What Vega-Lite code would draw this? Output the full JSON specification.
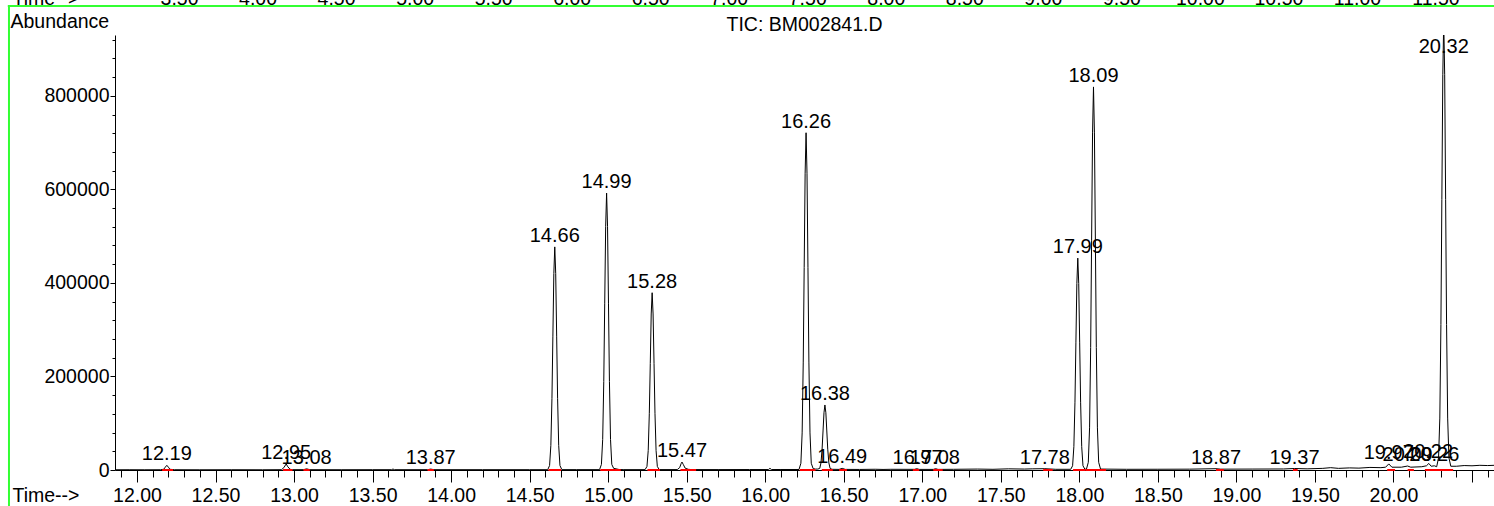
{
  "$schema": "https://vega.github.io/schema/vega-lite/v6.json",
  "autosize": {"type": "none"},
  "width": 1379,
  "height": 435,
  "padding": {"left": 115, "top": 35, "right": 0, "bottom": 36},
  "background": "white",
  "title": {
    "text": "TIC: BM002841.D",
    "anchor": "middle",
    "fontSize": 19.5,
    "fontWeight": "normal",
    "font": "Liberation Sans",
    "color": "black",
    "baseline": "alphabetic",
    "offset": 7,
    "dy": 69
  },
  "datasets": {
    "trace": [
      {"t": 11.86, "a": 500}, {"t": 11.95, "a": 600}, {"t": 12.05, "a": 500}, {"t": 12.15, "a": 600},
      {"t": 12.17, "a": 1500}, {"t": 12.18, "a": 6000}, {"t": 12.19, "a": 10000}, {"t": 12.2, "a": 6000},
      {"t": 12.21, "a": 1500}, {"t": 12.24, "a": 600}, {"t": 12.4, "a": 500}, {"t": 12.6, "a": 600},
      {"t": 12.8, "a": 500}, {"t": 12.92, "a": 700}, {"t": 12.935, "a": 5000}, {"t": 12.95, "a": 13000},
      {"t": 12.96, "a": 7000}, {"t": 12.975, "a": 1500}, {"t": 12.99, "a": 700}, {"t": 13.06, "a": 700},
      {"t": 13.08, "a": 2500}, {"t": 13.1, "a": 700}, {"t": 13.3, "a": 600}, {"t": 13.5, "a": 700},
      {"t": 13.62, "a": 700}, {"t": 13.63, "a": 2000}, {"t": 13.64, "a": 700}, {"t": 13.85, "a": 700},
      {"t": 13.87, "a": 2000}, {"t": 13.89, "a": 700}, {"t": 14.2, "a": 700}, {"t": 14.5, "a": 700},
      {"t": 14.615, "a": 700}, {"t": 14.627, "a": 9500}, {"t": 14.635, "a": 52500}, {"t": 14.642, "a": 152600},
      {"t": 14.648, "a": 286200}, {"t": 14.654, "a": 419800}, {"t": 14.66, "a": 477000}, {"t": 14.666, "a": 419800},
      {"t": 14.672, "a": 286200}, {"t": 14.678, "a": 152600}, {"t": 14.685, "a": 52500}, {"t": 14.693, "a": 9500},
      {"t": 14.705, "a": 800}, {"t": 14.8, "a": 800}, {"t": 14.945, "a": 800}, {"t": 14.957, "a": 11840},
      {"t": 14.965, "a": 65120}, {"t": 14.972, "a": 189440}, {"t": 14.978, "a": 355200}, {"t": 14.984, "a": 520960},
      {"t": 14.99, "a": 592000}, {"t": 14.996, "a": 520960}, {"t": 15.002, "a": 355200}, {"t": 15.008, "a": 189440},
      {"t": 15.015, "a": 65120}, {"t": 15.023, "a": 11840}, {"t": 15.035, "a": 3500}, {"t": 15.05, "a": 2500},
      {"t": 15.07, "a": 1000}, {"t": 15.1, "a": 800}, {"t": 15.235, "a": 800}, {"t": 15.247, "a": 7580},
      {"t": 15.255, "a": 41690}, {"t": 15.262, "a": 121280}, {"t": 15.268, "a": 227400}, {"t": 15.274, "a": 333520},
      {"t": 15.28, "a": 379000}, {"t": 15.286, "a": 333520}, {"t": 15.292, "a": 227400}, {"t": 15.298, "a": 121280},
      {"t": 15.305, "a": 41690}, {"t": 15.313, "a": 7580}, {"t": 15.325, "a": 900}, {"t": 15.44, "a": 900},
      {"t": 15.455, "a": 5000}, {"t": 15.465, "a": 14000}, {"t": 15.47, "a": 17000}, {"t": 15.478, "a": 12000},
      {"t": 15.49, "a": 4000}, {"t": 15.51, "a": 1500}, {"t": 15.53, "a": 900}, {"t": 15.7, "a": 900},
      {"t": 15.9, "a": 1000}, {"t": 16.02, "a": 1000}, {"t": 16.03, "a": 3500}, {"t": 16.04, "a": 1000},
      {"t": 16.1, "a": 1100}, {"t": 16.215, "a": 1100}, {"t": 16.227, "a": 14420}, {"t": 16.235, "a": 79310},
      {"t": 16.242, "a": 230720}, {"t": 16.248, "a": 432600}, {"t": 16.254, "a": 634480}, {"t": 16.26, "a": 721000},
      {"t": 16.266, "a": 634480}, {"t": 16.272, "a": 432600}, {"t": 16.278, "a": 230720}, {"t": 16.285, "a": 79310},
      {"t": 16.293, "a": 14420}, {"t": 16.305, "a": 3000}, {"t": 16.32, "a": 2000}, {"t": 16.335, "a": 2000},
      {"t": 16.347, "a": 3500}, {"t": 16.355, "a": 15290}, {"t": 16.362, "a": 44480}, {"t": 16.368, "a": 83400},
      {"t": 16.374, "a": 122320}, {"t": 16.38, "a": 139000}, {"t": 16.386, "a": 122320}, {"t": 16.392, "a": 83400},
      {"t": 16.398, "a": 44480}, {"t": 16.405, "a": 15290}, {"t": 16.413, "a": 3500}, {"t": 16.425, "a": 1500},
      {"t": 16.47, "a": 1300}, {"t": 16.49, "a": 3500}, {"t": 16.51, "a": 1300}, {"t": 16.6, "a": 1200},
      {"t": 16.7, "a": 1600}, {"t": 16.75, "a": 1200}, {"t": 16.8, "a": 1500}, {"t": 16.95, "a": 1400},
      {"t": 16.965, "a": 2800}, {"t": 16.98, "a": 1300}, {"t": 17.07, "a": 1300}, {"t": 17.085, "a": 2800},
      {"t": 17.1, "a": 1300}, {"t": 17.2, "a": 1500}, {"t": 17.35, "a": 2000}, {"t": 17.45, "a": 1500},
      {"t": 17.55, "a": 2500}, {"t": 17.65, "a": 2000}, {"t": 17.7, "a": 2500}, {"t": 17.78, "a": 2800},
      {"t": 17.85, "a": 1500}, {"t": 17.945, "a": 1500}, {"t": 17.957, "a": 9060}, {"t": 17.965, "a": 49830},
      {"t": 17.972, "a": 144960}, {"t": 17.978, "a": 271800}, {"t": 17.984, "a": 398640}, {"t": 17.99, "a": 453000},
      {"t": 17.996, "a": 398640}, {"t": 18.002, "a": 271800}, {"t": 18.008, "a": 144960}, {"t": 18.015, "a": 49830},
      {"t": 18.023, "a": 9060}, {"t": 18.035, "a": 1800}, {"t": 18.045, "a": 1800}, {"t": 18.057, "a": 16380},
      {"t": 18.065, "a": 90090}, {"t": 18.072, "a": 262080}, {"t": 18.078, "a": 491400}, {"t": 18.084, "a": 720720},
      {"t": 18.09, "a": 819000}, {"t": 18.096, "a": 720720}, {"t": 18.102, "a": 491400}, {"t": 18.108, "a": 262080},
      {"t": 18.115, "a": 90090}, {"t": 18.123, "a": 16380}, {"t": 18.135, "a": 2000}, {"t": 18.3, "a": 1500},
      {"t": 18.5, "a": 1600}, {"t": 18.7, "a": 1800}, {"t": 18.87, "a": 2800}, {"t": 18.9, "a": 1800},
      {"t": 19.1, "a": 2000}, {"t": 19.3, "a": 2200}, {"t": 19.37, "a": 3200}, {"t": 19.45, "a": 2500},
      {"t": 19.55, "a": 3500}, {"t": 19.6, "a": 5000}, {"t": 19.65, "a": 3500}, {"t": 19.72, "a": 4500},
      {"t": 19.78, "a": 4000}, {"t": 19.85, "a": 5500}, {"t": 19.92, "a": 5000}, {"t": 19.95, "a": 6000},
      {"t": 19.97, "a": 13000}, {"t": 19.99, "a": 6000}, {"t": 20.05, "a": 6000}, {"t": 20.09, "a": 8500},
      {"t": 20.11, "a": 6000}, {"t": 20.18, "a": 7000}, {"t": 20.21, "a": 9000}, {"t": 20.225, "a": 14000},
      {"t": 20.24, "a": 8000}, {"t": 20.26, "a": 9000}, {"t": 20.275, "a": 7000}, {"t": 20.287, "a": 26000},
      {"t": 20.295, "a": 111000}, {"t": 20.302, "a": 311000}, {"t": 20.308, "a": 578000}, {"t": 20.314, "a": 845000},
      {"t": 20.32, "a": 960000}, {"t": 20.326, "a": 845000}, {"t": 20.332, "a": 578000}, {"t": 20.338, "a": 311000},
      {"t": 20.345, "a": 111000}, {"t": 20.353, "a": 26000}, {"t": 20.365, "a": 8000}, {"t": 20.4, "a": 8000},
      {"t": 20.45, "a": 9500}, {"t": 20.5, "a": 9000}, {"t": 20.55, "a": 10000}, {"t": 20.6, "a": 9500},
      {"t": 20.64, "a": 10000}
    ],
    "peaks": [
      {"rt": 12.19, "h": 10000}, {"rt": 12.95, "h": 13000}, {"rt": 13.08, "h": 2500}, {"rt": 13.87, "h": 2000},
      {"rt": 14.66, "h": 477000}, {"rt": 14.99, "h": 592000}, {"rt": 15.28, "h": 379000}, {"rt": 15.47, "h": 17000},
      {"rt": 16.26, "h": 721000}, {"rt": 16.38, "h": 139000}, {"rt": 16.49, "h": 3500}, {"rt": 16.97, "h": 2800},
      {"rt": 17.08, "h": 2800}, {"rt": 17.78, "h": 2800}, {"rt": 17.99, "h": 453000}, {"rt": 18.09, "h": 819000},
      {"rt": 18.87, "h": 2800}, {"rt": 19.37, "h": 3200}, {"rt": 19.97, "h": 13000}, {"rt": 20.09, "h": 8500},
      {"rt": 20.22, "h": 14000}, {"rt": 20.26, "h": 9000}, {"rt": 20.32, "h": 960000}
    ],
    "baselines": [
      {"s": 12.16, "e": 12.23}, {"s": 12.93, "e": 12.99}, {"s": 13.06, "e": 13.1}, {"s": 13.85, "e": 13.89},
      {"s": 14.62, "e": 14.7}, {"s": 14.95, "e": 15.08}, {"s": 15.25, "e": 15.33}, {"s": 15.46, "e": 15.56},
      {"s": 16.22, "e": 16.32}, {"s": 16.36, "e": 16.43}, {"s": 16.47, "e": 16.52}, {"s": 16.94, "e": 16.98},
      {"s": 17.07, "e": 17.13}, {"s": 17.77, "e": 17.83}, {"s": 17.96, "e": 18.04}, {"s": 18.04, "e": 18.17},
      {"s": 18.87, "e": 18.92}, {"s": 19.36, "e": 19.39}, {"s": 19.96, "e": 20.01}, {"s": 20.09, "e": 20.13},
      {"s": 20.2, "e": 20.38}
    ]
  },
  "layer": [
    {
      "layer": [
        {
          "data": {"name": "trace"},
          "mark": {"type": "line", "color": "black", "strokeWidth": 1, "clip": true},
          "encoding": {
            "x": {
              "field": "t",
              "type": "quantitative",
              "scale": {"domain": [11.86, 20.64], "nice": false, "zero": false},
              "axis": {
                "title": "Time-->",
                "titleX": -103,
                "titleY": 31,
                "titleAlign": "left",
                "titleBaseline": "alphabetic",
                "titleAnchor": null,
                "tickCount": 500,
                "values": [11.9, 12, 12.1, 12.2, 12.3, 12.4, 12.5, 12.6, 12.7, 12.8, 12.9, 13, 13.1, 13.2, 13.3, 13.4, 13.5, 13.6, 13.7, 13.8, 13.9, 14, 14.1, 14.2, 14.3, 14.4, 14.5, 14.6, 14.7, 14.8, 14.9, 15, 15.1, 15.2, 15.3, 15.4, 15.5, 15.6, 15.7, 15.8, 15.9, 16, 16.1, 16.2, 16.3, 16.4, 16.5, 16.6, 16.7, 16.8, 16.9, 17, 17.1, 17.2, 17.3, 17.4, 17.5, 17.6, 17.7, 17.8, 17.9, 18, 18.1, 18.2, 18.3, 18.4, 18.5, 18.6, 18.7, 18.8, 18.9, 19, 19.1, 19.2, 19.3, 19.4, 19.5, 19.6, 19.7, 19.8, 19.9, 20, 20.1, 20.2, 20.3, 20.4, 20.5, 20.6],
                "tickSize": {"condition": {"test": "abs(datum.value * 2 - round(datum.value * 2)) < 0.01", "value": 12}, "value": 7},
                "labelExpr": "abs(datum.value * 2 - round(datum.value * 2)) < 0.01 && datum.value < 20.3 ? format(datum.value, '.2f') : ''",
                "labelPadding": 19,
                "labelBaseline": "alphabetic",
                "labelOverlap": false,
                "labelFlush": false,
                "labelBound": false
              }
            },
            "y": {
              "field": "a",
              "type": "quantitative",
              "scale": {"domain": [0, 930000], "nice": false},
              "axis": {
                "title": "Abundance",
                "titleAngle": 0,
                "titleX": -105,
                "titleY": -8,
                "titleAlign": "left",
                "titleBaseline": "alphabetic",
                "titleAnchor": null,
                "tickCount": 500,
                "values": [0, 40000, 80000, 120000, 160000, 200000, 240000, 280000, 320000, 360000, 400000, 440000, 480000, 520000, 560000, 600000, 640000, 680000, 720000, 760000, 800000, 840000, 880000, 920000],
                "tickSize": {"condition": {"test": "datum.value % 200000 === 0", "value": 5}, "value": 3},
                "labelExpr": "datum.value % 200000 === 0 ? format(datum.value, 'd') : ''",
                "labelPadding": 1,
                "labelOverlap": false,
                "labelFlush": false,
                "labelBound": false
              }
            }
          }
        },
        {
          "data": {"name": "baselines"},
          "mark": {"type": "rule", "color": "#ff0000", "strokeWidth": 2},
          "encoding": {
            "x": {"field": "s", "type": "quantitative"},
            "x2": {"field": "e"},
            "y": {"datum": 0, "type": "quantitative"}
          }
        },
        {
          "data": {"name": "peaks"},
          "transform": [{"calculate": "min(datum.h, 880000)", "as": "ly"}],
          "mark": {"type": "text", "font": "Liberation Sans", "fontSize": 20, "color": "black", "align": "center", "baseline": "alphabetic", "dy": -5},
          "encoding": {
            "x": {"field": "rt", "type": "quantitative"},
            "y": {"field": "ly", "type": "quantitative"},
            "text": {"field": "rt", "type": "quantitative", "format": ".2f"}
          }
        },
        {
          "data": {"values": [{}]},
          "mark": {"type": "rule", "color": "#33ff33", "strokeWidth": 2, "clip": false},
          "encoding": {
            "x": {"datum": 11.185, "type": "quantitative"},
            "y": {"datum": -80000, "type": "quantitative"},
            "y2": {"datum": 992000}
          }
        }
      ]
    },
    {
      "data": {"values": [{}]},
      "mark": {"type": "rule", "color": "#33ff33", "strokeWidth": 2, "clip": false},
      "encoding": {
        "x": {
          "datum": 2.41,
          "type": "quantitative",
          "scale": {"domain": [3.0925, 11.8725], "nice": false, "zero": false},
          "axis": {
            "orient": "top",
            "tickCount": 100,
            "values": [3.5, 4, 4.5, 5, 5.5, 6, 6.5, 7, 7.5, 8, 8.5, 9, 9.5, 10, 10.5, 11, 11.5],
            "format": ".2f",
            "ticks": false,
            "tickSize": 0,
            "domain": false,
            "labelPadding": 31,
            "labelBaseline": "alphabetic",
            "labelOverlap": false,
            "labelFlush": false,
            "title": "Time-->",
            "titleX": -103,
            "titleY": -31,
            "titleAlign": "left",
            "titleBaseline": "alphabetic",
            "titleAnchor": null
          }
        },
        "x2": {"datum": 12.5},
        "y": {"datum": 992000, "type": "quantitative"}
      }
    }
  ],
  "resolve": {"scale": {"x": "independent"}},
  "config": {
    "view": {"stroke": null},
    "font": "Liberation Sans",
    "axis": {
      "grid": false,
      "domainColor": "black",
      "tickColor": "black",
      "labelColor": "black",
      "titleColor": "black",
      "labelFont": "Liberation Sans",
      "titleFont": "Liberation Sans",
      "labelFontSize": 19.5,
      "titleFontSize": 19.5,
      "titleFontWeight": "normal"
    }
  }
}
